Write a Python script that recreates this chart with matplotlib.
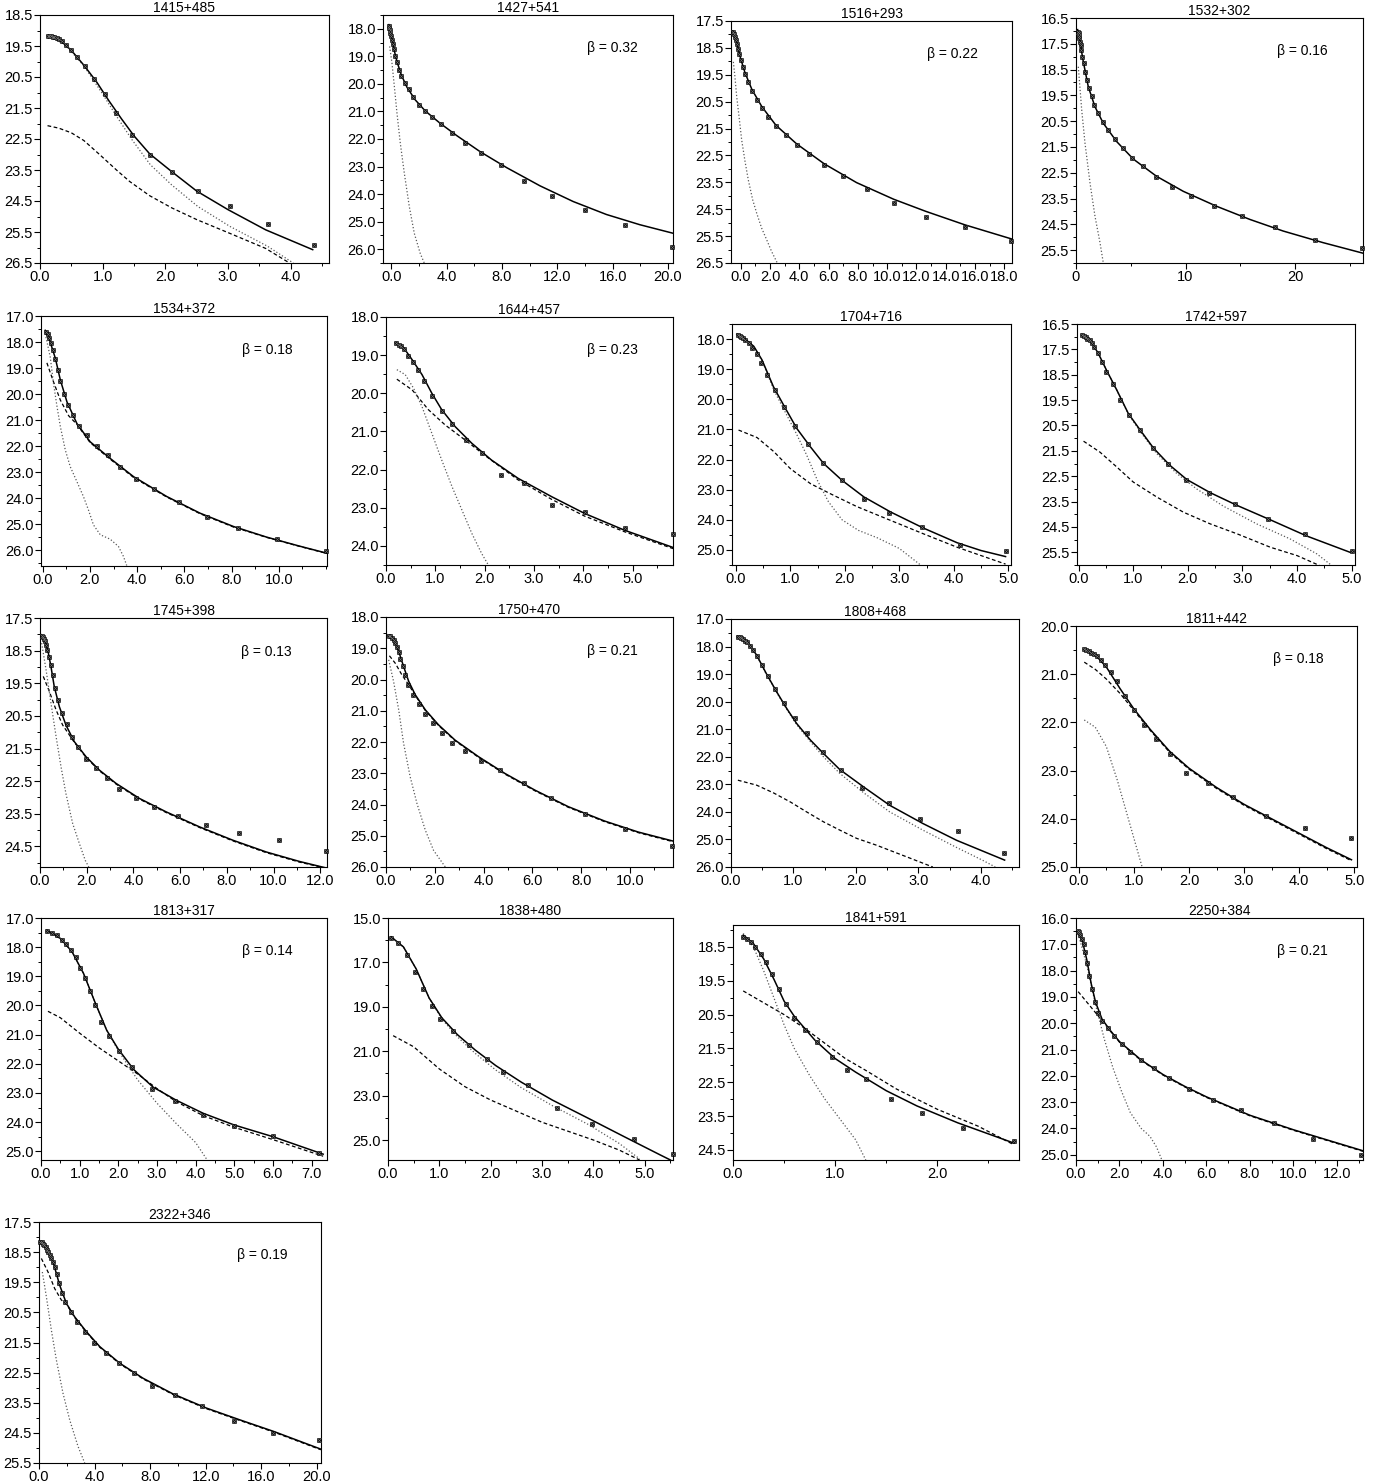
import numpy as np
import matplotlib.pyplot as plt
from matplotlib.ticker import AutoMinorLocator, FormatStrFormatter

plt.rcParams['font.family'] = ['Liberation Sans', 'DejaVu Sans']

# ---- data: (r, mu) pairs ----
pts_1415 = [(0.12, 19.17), (0.15, 19.18), (0.18, 19.19), (0.20, 19.20), (0.23, 19.22), (0.27, 19.25),
            (0.31, 19.29), (0.35, 19.35), (0.41, 19.46), (0.49, 19.64), (0.59, 19.84), (0.71, 20.14),
            (0.86, 20.55), (1.03, 21.06), (1.22, 21.67), (1.47, 22.36), (1.76, 23.02), (2.10, 23.55),
            (2.52, 24.17), (3.03, 24.65), (3.63, 25.23), (4.37, 25.92)]
fit_1415 = [(0.12, 19.16), (0.3, 19.28), (0.5, 19.64), (0.7, 20.12), (0.9, 20.65), (1.1, 21.27), (1.3, 21.85),
            (1.5, 22.40), (1.75, 22.98), (2.1, 23.55), (2.5, 24.18), (3.0, 24.78), (3.6, 25.43), (4.35, 26.07)]
disk_1415 = [(0.12, 22.07), (0.3, 22.15), (0.5, 22.30), (0.7, 22.55), (0.95, 23.00), (1.22, 23.50), (1.43, 23.87),
             (1.75, 24.33), (2.1, 24.72), (2.5, 25.10), (3.0, 25.52), (3.6, 26.03), (3.98, 26.50)]
bulge_1415 = [(0.12, 19.17), (0.4, 19.45), (0.7, 20.14), (1.0, 21.05), (1.2, 21.70), (1.47, 22.53), (1.76, 23.33),
              (2.1, 23.98), (2.52, 24.68), (3.03, 25.32), (3.63, 25.96), (4.04, 26.50)]

pts_1427 = [(-0.19, 17.89), (-0.14, 17.98), (-0.12, 18.06), (-0.07, 18.16), (-0.02, 18.28), (0.02, 18.40),
            (0.10, 18.54), (0.17, 18.73), (0.29, 18.98), (0.41, 19.22), (0.55, 19.49), (0.72, 19.73),
            (0.96, 19.95), (1.25, 20.19), (1.56, 20.48), (1.97, 20.76), (2.40, 20.98), (2.91, 21.20),
            (3.61, 21.45), (4.42, 21.79), (5.36, 22.15), (6.51, 22.52), (7.91, 22.95), (9.62, 23.54),
            (11.59, 24.07), (13.99, 24.57), (16.88, 25.13), (20.29, 25.93)]
fit_1427 = [(-0.19, 17.85), (-0.07, 18.16), (0.17, 18.70), (0.41, 19.19), (0.72, 19.67), (1.13, 20.12),
            (1.73, 20.58), (2.45, 20.98), (3.53, 21.43), (4.74, 21.88), (6.42, 22.46), (8.34, 23.04),
            (10.75, 23.70), (13.15, 24.27), (15.55, 24.74), (17.96, 25.11), (20.36, 25.42)]
bulge_1427 = [(-0.12, 18.64), (0.05, 19.25), (0.22, 20.09), (0.41, 21.06), (0.65, 22.15), (0.94, 23.24),
              (1.30, 24.45), (1.66, 25.42), (2.09, 26.15), (2.38, 26.50)]

pts_1516 = [(-0.55, 17.91), (-0.48, 17.97), (-0.41, 18.09), (-0.34, 18.22), (-0.27, 18.34), (-0.20, 18.53),
            (-0.11, 18.74), (0.00, 18.96), (0.14, 19.21), (0.30, 19.48), (0.52, 19.76), (0.77, 20.10),
            (1.09, 20.42), (1.45, 20.73), (1.86, 21.06), (2.41, 21.40), (3.09, 21.74), (3.82, 22.11),
            (4.66, 22.44), (5.70, 22.85), (7.00, 23.26), (8.59, 23.75), (10.45, 24.27), (12.64, 24.79),
            (15.30, 25.15), (18.43, 25.70)]
fit_1516 = [(-0.55, 17.87), (-0.27, 18.32), (0.00, 18.90), (0.30, 19.43), (0.77, 20.05), (1.45, 20.69),
            (2.41, 21.38), (3.82, 22.07), (5.70, 22.81), (7.91, 23.51), (10.45, 24.13), (12.64, 24.58),
            (15.30, 25.08), (18.52, 25.61)]
bulge_1516 = [(-0.50, 19.02), (-0.39, 19.58), (-0.27, 20.32), (-0.11, 21.06), (0.07, 21.93), (0.30, 22.73),
              (0.52, 23.41), (0.82, 24.15), (1.09, 24.64), (1.43, 25.20), (1.77, 25.63), (2.11, 26.07),
              (2.50, 26.50)]

pts_1532 = [(0.21, 17.04), (0.24, 17.10), (0.27, 17.19), (0.30, 17.29), (0.36, 17.43), (0.43, 17.56),
            (0.46, 17.75), (0.58, 18.01), (0.70, 18.26), (0.82, 18.58), (0.97, 18.91), (1.19, 19.20),
            (1.43, 19.52), (1.67, 19.87), (2.04, 20.19), (2.43, 20.52), (2.95, 20.84), (3.56, 21.20),
            (4.26, 21.55), (5.08, 21.91), (6.08, 22.25), (7.29, 22.66), (8.72, 23.05), (10.49, 23.39),
            (12.61, 23.80), (15.11, 24.18), (18.15, 24.61), (21.79, 25.12), (26.11, 25.41)]
fit_1532 = [(0.15, 16.95), (0.36, 17.43), (0.67, 18.20), (1.12, 19.16), (1.73, 19.94), (2.49, 20.58),
            (3.71, 21.29), (5.23, 21.97), (7.36, 22.64), (9.79, 23.22), (12.83, 23.80), (15.87, 24.31),
            (18.91, 24.76), (22.55, 25.21), (26.20, 25.62)]
bulge_1532 = [(0.21, 18.39), (0.52, 20.06), (0.82, 21.35), (1.28, 22.90), (1.73, 24.18), (2.19, 25.21),
              (2.49, 25.99)]

pts_1534 = [(0.14, 17.61), (0.21, 17.70), (0.28, 17.83), (0.35, 18.03), (0.44, 18.29), (0.54, 18.67),
            (0.63, 19.06), (0.75, 19.50), (0.89, 19.98), (1.07, 20.42), (1.27, 20.81), (1.55, 21.21),
            (1.87, 21.57), (2.30, 21.98), (2.75, 22.34), (3.28, 22.79), (3.96, 23.26), (4.73, 23.65),
            (5.77, 24.15), (6.94, 24.70), (8.28, 25.15), (9.94, 25.56), (11.99, 26.04)]
fit_1534 = [(0.11, 17.55), (0.32, 18.00), (0.54, 18.63), (0.75, 19.46), (1.03, 20.30), (1.45, 21.13),
            (2.01, 21.83), (2.86, 22.47), (3.85, 23.17), (5.25, 23.93), (6.66, 24.57), (8.07, 25.08),
            (9.48, 25.49), (10.89, 25.84), (12.04, 26.11)]
disk_1534 = [(0.18, 18.80), (0.46, 19.53), (0.75, 20.23), (1.10, 20.83), (1.45, 21.16), (2.01, 21.86),
             (2.86, 22.50), (3.85, 23.20), (5.25, 23.95), (6.66, 24.59), (8.07, 25.10), (9.48, 25.50),
             (10.89, 25.85), (12.04, 26.12)]
bulge_1534 = [(0.11, 17.68), (0.32, 18.57), (0.46, 19.59), (0.61, 20.49), (0.75, 21.25), (0.96, 22.15),
              (1.17, 22.79), (1.45, 23.36), (1.73, 23.94), (1.94, 24.45), (2.15, 25.02), (2.44, 25.40),
              (2.86, 25.57), (3.21, 25.85), (3.42, 26.23), (3.56, 26.58)]

pts_1644 = [(0.21, 18.68), (0.26, 18.73), (0.30, 18.77), (0.36, 18.83), (0.44, 19.02), (0.54, 19.19),
            (0.65, 19.40), (0.78, 19.69), (0.93, 20.06), (1.13, 20.46), (1.34, 20.80), (1.62, 21.22),
            (1.94, 21.56), (2.33, 22.14), (2.80, 22.36), (3.36, 22.93), (4.03, 23.12), (4.84, 23.52),
            (5.81, 23.70)]
fit_1644 = [(0.19, 18.67), (0.36, 18.81), (0.53, 19.12), (0.73, 19.51), (0.93, 20.00), (1.13, 20.43),
            (1.40, 20.87), (1.74, 21.31), (2.14, 21.75), (2.68, 22.23), (3.36, 22.71), (4.03, 23.15),
            (4.84, 23.59), (5.82, 24.04)]
disk_1644 = [(0.22, 19.63), (0.53, 19.91), (0.86, 20.43), (1.20, 20.83), (1.60, 21.22), (2.08, 21.70),
             (2.68, 22.27), (3.36, 22.78), (4.03, 23.22), (4.84, 23.63), (5.82, 24.07)]
bulge_1644 = [(0.22, 19.38), (0.39, 19.51), (0.56, 19.87), (0.73, 20.35), (0.93, 21.05), (1.13, 21.75),
              (1.34, 22.45), (1.54, 23.06), (1.74, 23.67), (1.94, 24.20), (2.08, 24.51)]

pts_1704 = [(0.04, 17.86), (0.07, 17.89), (0.10, 17.93), (0.13, 17.97), (0.17, 18.02), (0.24, 18.13),
            (0.30, 18.30), (0.38, 18.50), (0.46, 18.78), (0.57, 19.19), (0.71, 19.69), (0.89, 20.27),
            (1.09, 20.89), (1.32, 21.49), (1.60, 22.10), (1.95, 22.69), (2.35, 23.32), (2.82, 23.78),
            (3.42, 24.24), (4.12, 24.83), (4.96, 25.02)]
fit_1704 = [(0.02, 17.83), (0.17, 18.00), (0.33, 18.24), (0.48, 18.69), (0.69, 19.58), (0.91, 20.30),
            (1.12, 20.97), (1.37, 21.58), (1.61, 22.13), (1.95, 22.69), (2.35, 23.24), (2.84, 23.74),
            (3.45, 24.28), (4.06, 24.76), (4.5, 25.02), (4.95, 25.22)]
disk_1704 = [(0.05, 21.02), (0.39, 21.27), (0.70, 21.74), (1.00, 22.30), (1.37, 22.80), (1.73, 23.13),
             (2.22, 23.56), (2.84, 24.02), (3.45, 24.47), (4.06, 24.91), (4.95, 25.47)]
bulge_1704 = [(0.02, 17.84), (0.2, 18.05), (0.35, 18.30), (0.5, 18.80), (0.7, 19.70), (0.9, 20.40),
              (1.1, 21.10), (1.3, 21.85), (1.5, 22.70), (1.7, 23.40), (1.95, 24.00), (2.25, 24.35),
              (2.6, 24.60), (3.0, 24.95), (3.39, 25.50)]

pts_1742 = [(0.07, 16.93), (0.10, 16.97), (0.13, 17.03), (0.16, 17.08), (0.20, 17.13), (0.24, 17.26),
            (0.28, 17.42), (0.35, 17.66), (0.42, 17.99), (0.51, 18.38), (0.62, 18.88), (0.75, 19.48),
            (0.92, 20.07), (1.13, 20.69), (1.37, 21.37), (1.64, 22.01), (1.97, 22.63), (2.39, 23.15),
            (2.87, 23.59), (3.46, 24.18), (4.15, 24.77), (5.00, 25.43)]
fit_1742 = [(0.06, 16.91), (0.21, 17.13), (0.36, 17.66), (0.51, 18.32), (0.70, 19.11), (0.91, 20.03),
            (1.13, 20.69), (1.37, 21.39), (1.67, 22.07), (1.98, 22.63), (2.41, 23.15), (2.90, 23.65),
            (3.51, 24.22), (4.18, 24.86), (4.97, 25.50)]
disk_1742 = [(0.09, 21.12), (0.39, 21.55), (0.70, 22.14), (1.00, 22.73), (1.43, 23.32), (1.92, 23.92),
             (2.41, 24.38), (2.90, 24.77), (3.51, 25.30), (4.00, 25.63), (4.42, 26.03)]
bulge_1742 = [(0.06, 16.91), (0.21, 17.13), (0.36, 17.66), (0.51, 18.32), (0.70, 19.11), (0.91, 20.05),
              (1.13, 20.75), (1.43, 21.61), (1.80, 22.40), (2.16, 23.00), (2.65, 23.68), (3.26, 24.38),
              (3.87, 24.97), (4.36, 25.56), (4.64, 26.03)]

pts_1745 = [(0.07, 18.04), (0.13, 18.08), (0.17, 18.15), (0.21, 18.22), (0.26, 18.34), (0.31, 18.49),
            (0.37, 18.71), (0.46, 18.93), (0.54, 19.26), (0.64, 19.63), (0.77, 20.01), (0.93, 20.40),
            (1.14, 20.76), (1.37, 21.14), (1.64, 21.44), (1.97, 21.81), (2.40, 22.09), (2.86, 22.39),
            (3.40, 22.73), (4.09, 23.03), (4.90, 23.29), (5.93, 23.58), (7.11, 23.83), (8.51, 24.08),
            (10.23, 24.31), (12.26, 24.64)]
fit_1745 = [(0.04, 18.01), (0.19, 18.15), (0.33, 18.47), (0.47, 18.99), (0.61, 19.60), (0.83, 20.22),
            (1.11, 20.78), (1.47, 21.29), (1.97, 21.75), (2.54, 22.16), (3.26, 22.57), (4.26, 23.03),
            (5.40, 23.44), (6.83, 23.90), (8.26, 24.31), (9.69, 24.67), (11.11, 24.96), (12.2, 25.15)]
disk_1745 = [(0.14, 19.29), (0.40, 19.75), (0.69, 20.32), (0.97, 20.78), (1.47, 21.31), (1.97, 21.77),
             (2.54, 22.18), (3.26, 22.59), (4.26, 23.05), (5.40, 23.46), (6.83, 23.92), (8.26, 24.33),
             (9.69, 24.69), (11.11, 24.98), (12.2, 25.16)]
bulge_1745 = [(0.07, 18.27), (0.26, 19.09), (0.47, 20.11), (0.69, 21.14), (0.90, 22.06), (1.11, 22.88),
              (1.40, 23.80), (1.69, 24.42), (1.94, 24.93), (2.09, 25.13)]

pts_1750 = [(0.11, 18.60), (0.18, 18.62), (0.25, 18.67), (0.31, 18.75), (0.38, 18.83), (0.45, 18.96),
            (0.52, 19.13), (0.59, 19.34), (0.68, 19.58), (0.76, 19.85), (0.90, 20.17), (1.10, 20.49),
            (1.34, 20.78), (1.58, 21.11), (1.91, 21.40), (2.29, 21.70), (2.72, 22.02), (3.24, 22.28),
            (3.88, 22.60), (4.67, 22.90), (5.65, 23.30), (6.78, 23.78), (8.15, 24.29), (9.78, 24.77),
            (11.73, 25.34)]
fit_1750 = [(0.08, 18.57), (0.31, 18.73), (0.52, 19.10), (0.72, 19.58), (0.93, 20.06), (1.20, 20.49),
            (1.61, 20.97), (2.15, 21.45), (2.83, 21.94), (3.79, 22.47), (4.88, 23.01), (6.10, 23.54),
            (7.47, 24.07), (8.96, 24.53), (10.33, 24.88), (11.76, 25.17)]
disk_1750 = [(0.14, 19.24), (0.38, 19.48), (0.65, 19.85), (0.93, 20.17), (1.20, 20.51), (1.61, 20.99),
             (2.15, 21.47), (2.83, 21.96), (3.79, 22.49), (4.88, 23.03), (6.10, 23.56), (7.47, 24.09),
             (8.96, 24.55), (10.33, 24.90), (11.76, 25.19)]
bulge_1750 = [(0.11, 19.37), (0.31, 20.06), (0.52, 20.97), (0.72, 22.04), (0.99, 23.11), (1.27, 23.97),
              (1.61, 24.82), (1.95, 25.47), (2.43, 26.00)]

pts_1808 = [(0.11, 17.64), (0.14, 17.67), (0.16, 17.70), (0.19, 17.74), (0.22, 17.79), (0.26, 17.85),
            (0.30, 17.97), (0.35, 18.13), (0.41, 18.34), (0.49, 18.67), (0.59, 19.06), (0.71, 19.54),
            (0.85, 20.06), (1.02, 20.61), (1.21, 21.15), (1.47, 21.82), (1.76, 22.48), (2.10, 23.13),
            (2.53, 23.67), (3.03, 24.24), (3.63, 24.69), (4.37, 25.49)]
fit_1808 = [(0.10, 17.62), (0.26, 17.82), (0.41, 18.31), (0.57, 19.00), (0.73, 19.64), (0.89, 20.24),
            (1.05, 20.79), (1.27, 21.39), (1.48, 21.88), (1.74, 22.46), (2.12, 23.09), (2.54, 23.76),
            (3.07, 24.42), (3.61, 25.03), (4.38, 25.75)]
disk_1808 = [(0.11, 22.85), (0.41, 23.03), (0.68, 23.31), (0.95, 23.64), (1.21, 24.00), (1.48, 24.36),
             (1.74, 24.66), (2.01, 24.96), (2.33, 25.21), (2.81, 25.63), (3.23, 26.00)]
bulge_1808 = [(0.10, 17.62), (0.26, 17.82), (0.41, 18.32), (0.57, 19.02), (0.73, 19.66), (0.89, 20.27),
              (1.05, 20.83), (1.27, 21.45), (1.48, 22.00), (1.74, 22.60), (2.12, 23.30), (2.54, 24.00),
              (3.07, 24.66), (3.61, 25.29), (4.04, 25.77), (4.23, 26.00)]

pts_1811 = [(0.10, 20.48), (0.14, 20.50), (0.18, 20.52), (0.22, 20.55), (0.27, 20.58), (0.33, 20.63),
            (0.40, 20.70), (0.48, 20.80), (0.58, 20.95), (0.70, 21.15), (0.84, 21.45), (1.00, 21.75),
            (1.18, 22.05), (1.40, 22.35), (1.65, 22.65), (1.95, 23.05), (2.35, 23.25), (2.80, 23.55),
            (3.40, 23.95), (4.10, 24.20), (4.95, 24.40)]
fit_1811 = [(0.10, 20.48), (0.30, 20.60), (0.50, 20.85), (0.75, 21.30), (1.00, 21.72), (1.30, 22.15),
            (1.65, 22.60), (2.00, 22.95), (2.50, 23.35), (3.00, 23.70), (3.50, 24.00), (4.00, 24.30),
            (4.50, 24.60), (4.95, 24.85)]
disk_1811 = [(0.10, 20.75), (0.30, 20.90), (0.50, 21.10), (0.75, 21.40), (1.00, 21.75), (1.30, 22.17),
             (1.65, 22.62), (2.00, 22.97), (2.50, 23.37), (3.00, 23.72), (3.50, 24.02), (4.00, 24.32),
             (4.50, 24.62), (4.95, 24.87)]
bulge_1811 = [(0.10, 21.95), (0.30, 22.10), (0.50, 22.50), (0.70, 23.20), (0.90, 24.00), (1.05, 24.60),
              (1.15, 25.00)]

pts_1813 = [(0.15, 17.45), (0.28, 17.50), (0.41, 17.60), (0.54, 17.75), (0.64, 17.90), (0.77, 18.10),
            (0.90, 18.35), (1.02, 18.70), (1.15, 19.05), (1.28, 19.50), (1.41, 19.97), (1.56, 20.55),
            (1.77, 21.06), (2.02, 21.57), (2.36, 22.12), (2.86, 22.87), (3.48, 23.28), (4.20, 23.76),
            (5.00, 24.13), (6.00, 24.47), (7.20, 25.05)]
fit_1813 = [(0.15, 17.42), (0.50, 17.70), (0.80, 18.15), (1.10, 18.90), (1.40, 19.90), (1.70, 20.85),
            (2.00, 21.50), (2.40, 22.20), (2.90, 22.80), (3.50, 23.25), (4.20, 23.70), (5.00, 24.10),
            (6.00, 24.50), (7.30, 25.10)]
disk_1813 = [(0.18, 20.20), (0.50, 20.42), (1.00, 20.95), (1.50, 21.45), (2.00, 21.90), (2.50, 22.35),
             (3.00, 22.85), (3.50, 23.30), (4.20, 23.78), (5.00, 24.18), (6.00, 24.60), (7.30, 25.17)]
bulge_1813 = [(0.15, 17.42), (0.50, 17.70), (0.80, 18.15), (1.10, 18.90), (1.40, 19.90), (1.70, 20.85),
              (2.00, 21.55), (2.50, 22.55), (3.00, 23.35), (3.50, 24.05), (4.00, 24.70), (4.30, 25.30)]

pts_1838 = [(0.06, 15.90), (0.20, 16.13), (0.37, 16.67), (0.53, 17.43), (0.69, 18.20), (0.86, 18.96),
            (1.02, 19.55), (1.27, 20.09), (1.57, 20.72), (1.92, 21.35), (2.24, 21.94), (2.73, 22.52),
            (3.29, 23.55), (3.98, 24.30), (4.80, 24.95), (5.55, 25.65)]
fit_1838 = [(0.06, 15.85), (0.30, 16.30), (0.55, 17.30), (0.80, 18.60), (1.05, 19.50), (1.35, 20.25),
            (1.70, 20.95), (2.10, 21.65), (2.60, 22.40), (3.20, 23.20), (3.90, 24.02), (4.60, 24.85),
            (5.30, 25.67), (5.50, 25.90)]
disk_1838 = [(0.10, 20.30), (0.50, 20.80), (1.00, 21.80), (1.50, 22.60), (2.00, 23.20), (2.50, 23.70),
             (3.00, 24.20), (3.50, 24.60), (4.00, 25.00), (4.50, 25.45), (4.90, 25.90)]
bulge_1838 = [(0.06, 15.85), (0.30, 16.30), (0.55, 17.30), (0.80, 18.60), (1.05, 19.55), (1.35, 20.35),
              (1.70, 21.10), (2.10, 21.85), (2.60, 22.65), (3.20, 23.45), (3.90, 24.30), (4.50, 25.15),
              (4.90, 25.85)]

pts_1841 = [(0.10, 18.20), (0.14, 18.25), (0.18, 18.35), (0.22, 18.50), (0.27, 18.70), (0.32, 18.95),
            (0.38, 19.30), (0.45, 19.75), (0.52, 20.20), (0.60, 20.60), (0.70, 20.95), (0.82, 21.30),
            (0.97, 21.75), (1.12, 22.15), (1.30, 22.40), (1.55, 23.00), (1.85, 23.40), (2.25, 23.85),
            (2.75, 24.25)]
fit_1841 = [(0.10, 18.15), (0.20, 18.40), (0.30, 18.85), (0.40, 19.45), (0.50, 20.10), (0.60, 20.55),
            (0.80, 21.25), (1.00, 21.80), (1.20, 22.20), (1.50, 22.75), (1.80, 23.20), (2.20, 23.70),
            (2.75, 24.30)]
disk_1841 = [(0.10, 19.80), (0.30, 20.15), (0.50, 20.50), (0.70, 20.90), (0.90, 21.35), (1.10, 21.80),
             (1.30, 22.15), (1.60, 22.70), (2.00, 23.30), (2.40, 23.80), (2.75, 24.35)]
bulge_1841 = [(0.10, 18.10), (0.20, 18.50), (0.30, 19.20), (0.40, 20.00), (0.50, 20.80), (0.60, 21.50),
              (0.75, 22.30), (0.90, 23.00), (1.05, 23.60), (1.20, 24.20), (1.30, 24.80)]

pts_2250 = [(0.10, 16.50), (0.15, 16.55), (0.20, 16.65), (0.27, 16.80), (0.35, 17.00), (0.43, 17.30),
            (0.52, 17.70), (0.62, 18.20), (0.73, 18.70), (0.86, 19.20), (1.00, 19.60), (1.20, 19.90),
            (1.45, 20.20), (1.75, 20.50), (2.10, 20.80), (2.50, 21.10), (3.00, 21.40), (3.60, 21.70),
            (4.30, 22.10), (5.20, 22.50), (6.30, 22.90), (7.60, 23.30), (9.10, 23.80), (10.90, 24.40),
            (13.10, 25.00)]
fit_2250 = [(0.10, 16.50), (0.30, 16.90), (0.50, 17.60), (0.70, 18.50), (0.90, 19.20), (1.20, 19.85),
            (1.60, 20.30), (2.00, 20.70), (3.00, 21.40), (4.00, 21.95), (5.00, 22.40), (6.00, 22.80),
            (8.00, 23.50), (10.00, 24.05), (12.00, 24.55), (13.20, 24.85)]
disk_2250 = [(0.10, 18.80), (0.40, 19.10), (0.80, 19.50), (1.20, 19.90), (1.60, 20.32), (2.00, 20.72),
             (3.00, 21.42), (4.00, 21.97), (5.00, 22.42), (6.00, 22.82), (8.00, 23.52), (10.00, 24.07),
             (12.00, 24.57), (13.20, 24.87)]
bulge_2250 = [(0.10, 16.60), (0.50, 17.80), (0.90, 19.30), (1.30, 20.60), (1.70, 21.70), (2.10, 22.60),
              (2.50, 23.40), (3.00, 24.00), (3.40, 24.30), (3.70, 24.70), (3.95, 25.20)]

pts_2322 = [(0.10, 18.16), (0.19, 18.18), (0.29, 18.22), (0.38, 18.27), (0.48, 18.33), (0.58, 18.42),
            (0.67, 18.49), (0.77, 18.58), (0.89, 18.68), (1.01, 18.82), (1.15, 18.99), (1.30, 19.23),
            (1.44, 19.54), (1.63, 19.85), (1.90, 20.15), (2.28, 20.50), (2.74, 20.81), (3.29, 21.14),
            (3.94, 21.50), (4.81, 21.86), (5.75, 22.19), (6.85, 22.52), (8.15, 22.96), (9.78, 23.24),
            (11.71, 23.60), (14.06, 24.09), (16.88, 24.49), (20.19, 24.73)]
fit_2322 = [(0.05, 18.13), (0.53, 18.33), (1.01, 18.82), (1.49, 19.60), (1.97, 20.20), (2.57, 20.65),
            (3.41, 21.14), (4.38, 21.64), (5.82, 22.19), (7.50, 22.69), (9.66, 23.21), (12.07, 23.68),
            (14.47, 24.07), (16.88, 24.45), (20.29, 25.04)]
disk_2322 = [(0.17, 18.71), (0.65, 19.16), (1.13, 19.71), (1.61, 20.09), (1.97, 20.22), (2.57, 20.67),
             (3.41, 21.16), (4.38, 21.66), (5.82, 22.21), (7.50, 22.71), (9.66, 23.23), (12.07, 23.70),
             (14.47, 24.09), (16.88, 24.47), (20.29, 25.06)]
bulge_2322 = [(0.24, 19.16), (0.53, 19.98), (0.89, 21.09), (1.25, 22.08), (1.73, 23.19), (2.21, 24.07),
              (2.81, 24.95), (3.29, 25.50)]

names = ["1415+485", "1427+541", "1516+293", "1532+302", "1534+372", "1644+457", "1704+716",
         "1742+597", "1745+398", "1750+470", "1808+468", "1811+442", "1813+317", "1838+480",
         "1841+591", "2250+384", "2322+346"]
betas = [None, 0.32, 0.22, 0.16, 0.18, 0.23, None, None, 0.13, 0.21, None, 0.18, 0.14, None,
         None, 0.21, 0.19]
points = [pts_1415, pts_1427, pts_1516, pts_1532, pts_1534, pts_1644, pts_1704, pts_1742, pts_1745,
          pts_1750, pts_1808, pts_1811, pts_1813, pts_1838, pts_1841, pts_2250, pts_2322]
fits = [fit_1415, fit_1427, fit_1516, fit_1532, fit_1534, fit_1644, fit_1704, fit_1742, fit_1745,
        fit_1750, fit_1808, fit_1811, fit_1813, fit_1838, fit_1841, fit_2250, fit_2322]
disks = [disk_1415, None, None, None, disk_1534, disk_1644, disk_1704, disk_1742, disk_1745,
         disk_1750, disk_1808, disk_1811, disk_1813, disk_1838, disk_1841, disk_2250, disk_2322]
bulges = [bulge_1415, bulge_1427, bulge_1516, bulge_1532, bulge_1534, bulge_1644, bulge_1704,
          bulge_1742, bulge_1745, bulge_1750, bulge_1808, bulge_1811, bulge_1813, bulge_1838,
          bulge_1841, bulge_2250, bulge_2322]

# axis ranges: x min/max, bright (top) / faint (bottom) magnitude
x_range = [(0, 4.61), (-0.6, 20.36), (-0.66, 18.52), (0, 26.2), (-0.07, 12.04), (0, 5.82), (-0.07, 5.05),
           (-0.03, 5.06), (0, 12.29), (0, 11.76), (0, 4.61), (-0.05, 5.05), (0, 7.4), (0, 5.55),
           (0, 2.8), (0, 13.2), (0, 20.3)]
y_range = [(18.5, 26.5), (17.5, 26.5), (17.5, 26.5), (16.5, 26.0), (17.0, 26.6), (18.0, 24.5),
           (17.5, 25.5), (16.5, 26.0), (17.5, 25.13), (18.0, 26.0), (17.0, 26.0), (20.0, 25.0),
           (17.0, 25.3), (15.0, 25.9), (17.85, 24.8), (16.0, 25.2), (17.5, 25.5)]
x_step = [1, 4, 2, 10, 2, 1, 1, 1, 2, 2, 1, 1, 1, 1, 1, 2, 4]
x_last = [4, 20, 18, 20, 10, 5, 5, 5, 12, 10, 4, 5, 7, 5, 2, 12, 20]
y_first = [18.5, 18.0, 17.5, 16.5, 17.0, 18.0, 18.0, 16.5, 17.5, 18.0, 17.0, 20.0, 17.0, 15.0, 18.5, 16.0, 17.5]
y_step = [1, 1, 1, 1, 1, 1, 1, 1, 1, 1, 1, 1, 1, 2, 1, 1, 1]

# panel boxes in pixels: left, top, right, bottom
W, H = 1396, 1483
boxes = [(40, 15, 329, 263), (383, 15, 673, 263), (731, 21, 1012, 263), (1076, 18, 1363, 263),
         (41, 316, 327, 566), (386, 317, 673, 565), (732, 324, 1011, 565), (1077, 324, 1355, 565),
         (40, 618, 327, 867), (386, 617, 673, 867), (731, 619, 1019, 867), (1076, 626, 1357, 867),
         (41, 918, 327, 1160), (388, 918, 673, 1160), (733, 925, 1019, 1160), (1076, 918, 1363, 1160),
         (39, 1222, 321, 1463)]

fig = plt.figure(figsize=(W / 100, H / 100), dpi=100)

for i, name in enumerate(names):
    l, t, r, b = boxes[i]
    ax = fig.add_axes([l / W, 1 - b / H, (r - l) / W, (b - t) / H])

    p = np.array(points[i])
    f = np.array(fits[i])
    ax.plot(f[:, 0], f[:, 1], '-', color='black', lw=1.1, zorder=3)
    if disks[i] is not None:
        d = np.array(disks[i])
        ax.plot(d[:, 0], d[:, 1], color='black', lw=0.9, dashes=(3, 2), zorder=2)
    bu = np.array(bulges[i])
    ax.plot(bu[:, 0], bu[:, 1], ':', color='0.35', lw=0.9, zorder=2)
    # data points: dark square with a faint cross, like the scanned markers
    ax.plot(p[:, 0], p[:, 1], 's', color='black', ms=3.5, mec='black', mew=0.4, zorder=4, clip_on=False)
    ax.plot(p[:, 0], p[:, 1], 'x', color='0.45', ms=2.2, mew=0.45, zorder=5, clip_on=False)

    ax.set_xlim(*x_range[i])
    ax.set_ylim(y_range[i][1], y_range[i][0])
    ax.set_xticks(np.arange(0, x_last[i] + 0.01, x_step[i]))
    ax.set_yticks(np.arange(y_first[i], y_range[i][1] + 0.01, y_step[i]))
    ax.xaxis.set_minor_locator(AutoMinorLocator(2))
    ax.yaxis.set_minor_locator(AutoMinorLocator(2))
    if x_step[i] >= 10:
        ax.xaxis.set_major_formatter(FormatStrFormatter('%d'))
    else:
        ax.xaxis.set_major_formatter(FormatStrFormatter('%.1f'))
    ax.yaxis.set_major_formatter(FormatStrFormatter('%.1f'))
    ax.tick_params(which='major', direction='out', length=4, width=0.8, labelsize=10.5, pad=1)
    ax.tick_params(which='minor', direction='out', length=2.5, width=0.7)
    for s in ax.spines.values():
        s.set_linewidth(0.8)

    ax.set_title(name, fontsize=10, pad=1.5)
    if betas[i] is not None:
        ax.text(0.79, 0.865, "β = %.2f" % betas[i], transform=ax.transAxes,
                ha='center', va='center', fontsize=10)

fig.savefig('out.png', dpi=100)
